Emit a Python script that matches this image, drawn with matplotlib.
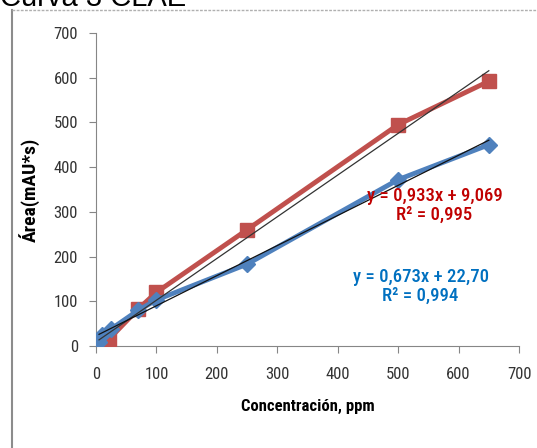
import matplotlib.pyplot as plt
from matplotlib.lines import Line2D
from matplotlib import font_manager
import numpy as np

# datos
conc_rojo = [5, 22, 70, 100, 250, 500, 650]
area_rojo = [5, 16, 83, 120, 260, 495, 592]
conc_azul = [5, 10, 25, 70, 100, 250, 500, 650]
area_azul = [9, 25, 38, 80, 103, 183, 372, 450]

# linea de tendencia (pendiente, intercepto)
tend_rojo = (0.933, 9.069)
tend_azul = (0.673, 22.70)
texto_rojo = 'y = 0,933x + 9,069\nR² = 0,995'
texto_azul = 'y = 0,673x + 22,70\nR² = 0,994'

xticks = [0, 100, 200, 300, 400, 500, 600, 700]
yticks = [0, 100, 200, 300, 400, 500, 600, 700]

disponibles = {f.name for f in font_manager.fontManager.ttflist}
narrow = [f for f in ['Liberation Sans Narrow', 'DejaVu Sans Condensed', 'Roboto Condensed',
                      'Roboto', 'DejaVu Sans'] if f in disponibles]
plt.rcParams['font.family'] = narrow

fig = plt.figure(figsize=(5.37, 4.48), dpi=100)
ax = fig.add_axes([0.1788, 0.2277, 0.7877, 0.6987])

# marco del grafico
fig.add_artist(Line2D([0.0223, 0.0223], [0.0, 0.9777], color='#8c8c8c', lw=1.5))
fig.add_artist(Line2D([0.0223, 1.0], [0.9777, 0.9777], color='#b0b0b0', lw=1, ls=(0, (2, 1))))
fig.text(0.0, 1.004, 'Curva 3 CLAE', fontsize=21, family='Liberation Sans',
         va='center', ha='left')

ax.plot(conc_rojo, area_rojo, color='#C0504D', lw=3.5, marker='s', ms=10, zorder=3)
ax.plot(conc_azul, area_azul, color='#4F81BD', lw=3.5, marker='D', ms=8, zorder=4)

xr = np.array([min(conc_rojo), max(conc_rojo)])
ax.plot(xr, tend_rojo[0] * xr + tend_rojo[1], color='#333333', lw=0.9, zorder=5)
xa = np.array([min(conc_azul), max(conc_azul)])
ax.plot(xa, tend_azul[0] * xa + tend_azul[1], color='#111111', lw=0.9, zorder=5)

ax.text(560, 315, texto_rojo, color='#C00000', fontsize=13.5, ha='center', va='center',
        linespacing=1.05, fontweight='medium', zorder=6)
ax.text(537, 134, texto_azul, color='#0070C0', fontsize=13.5, ha='center', va='center',
        linespacing=1.05, fontweight='medium', zorder=6)

ax.set_xlim(0, 700)
ax.set_ylim(0, 700)
ax.set_xticks(xticks)
ax.set_yticks(yticks)
for s in ['top', 'right']:
    ax.spines[s].set_visible(False)
for s in ['left', 'bottom']:
    ax.spines[s].set_color('#868686')
ax.tick_params(colors='#868686', labelcolor='#333333', labelsize=12, length=5)
ax.tick_params(axis='x', pad=10)
ax.tick_params(axis='y', pad=8)

ax.set_xlabel('Concentración, ppm', fontsize=12, fontweight='bold', labelpad=12)
ax.set_ylabel('Área(mAU*s)', fontsize=14, fontweight='bold', labelpad=10)

fig.savefig('out.png', dpi=100)
